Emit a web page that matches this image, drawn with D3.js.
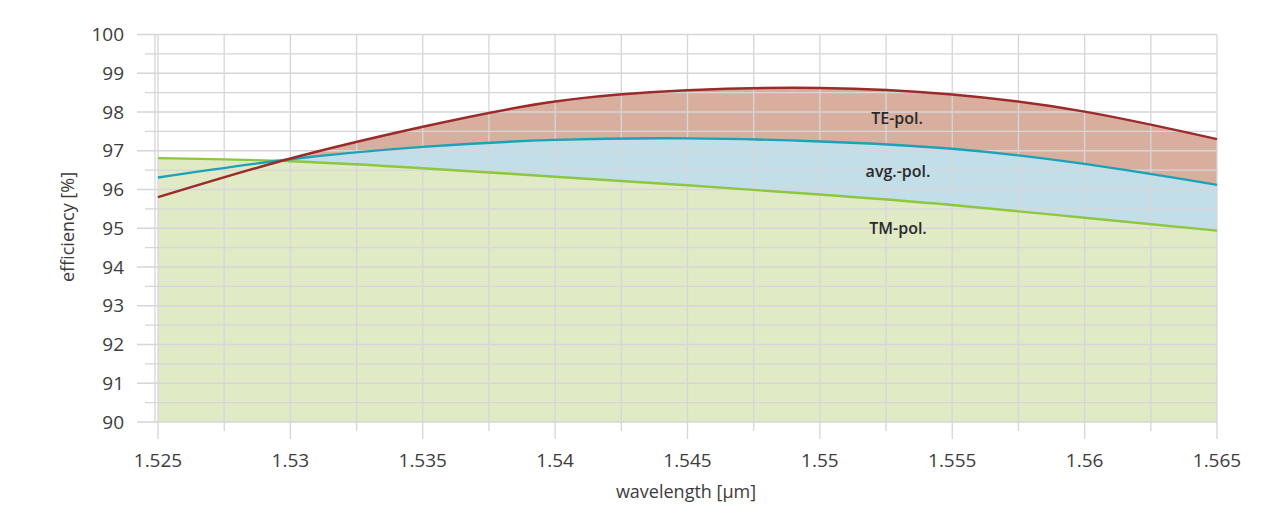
<!DOCTYPE html>
<html>
<head>
<meta charset="utf-8">
<script src="https://cdn.jsdelivr.net/npm/d3@7"></script>
<style>
  html, body { margin: 0; padding: 0; background: #ffffff; }
  svg { display: block; }
  text { font-family: "Open Sans", "Noto Sans", sans-serif; }
</style>
</head>
<body>
<svg id="chart" width="1267" height="520"></svg>
<script>
// ---- data ----
const wavelengths = [1.525, 1.530, 1.535, 1.540, 1.545, 1.550, 1.555, 1.560, 1.565];
const tePol  = [95.80, 96.80, 97.62, 98.27, 98.56, 98.62, 98.45, 98.01, 97.30];
const avgPol = [96.31, 96.78, 97.10, 97.28, 97.32, 97.24, 97.05, 96.66, 96.12];
const tmPol  = [96.81, 96.73, 96.55, 96.33, 96.11, 95.87, 95.60, 95.27, 94.94];
const xTickLabels = ["1.525", "1.53", "1.535", "1.54", "1.545", "1.55", "1.555", "1.56", "1.565"];
const yTickLabels = ["90", "91", "92", "93", "94", "95", "96", "97", "98", "99", "100"];
const seriesLabels = ["TE-pol.", "avg.-pol.", "TM-pol."];

// ---- layout ----
const svg = d3.select("#chart");
const x = d3.scaleLinear().domain([1.525, 1.565]).range([158, 1217]);
const y = d3.scaleLinear().domain([90, 100]).range([422, 34.5]);

const gridColor = "#d6d6da";
const textColor = "#3c3c3c";

const rows = wavelengths.map((w, i) => ({ w, te: tePol[i], avg: avgPol[i], tm: tmPol[i] }));
const curve = d3.curveNatural;

// ---- fills (drawn back to front) ----
const area = key => d3.area().x(d => x(d.w)).y0(y(90)).y1(d => y(d[key])).curve(curve);
svg.append("path").datum(rows).attr("d", area("te")).attr("fill", "#d8ae9f");
svg.append("path").datum(rows).attr("d", area("avg")).attr("fill", "#c2dfe9");
svg.append("path").datum(rows).attr("d", area("tm")).attr("fill", "#e0eac5");

// ---- grid ----
const grid = svg.append("g").attr("stroke", gridColor).attr("stroke-width", 1.3).attr("fill", "none");
const yMajors = yTickLabels.map(Number);
const yMinors = d3.range(90.5, 100, 1);
grid.selectAll(".hmaj").data(yMajors).join("line")
  .attr("x1", 137).attr("x2", x(1.565)).attr("y1", d => y(d)).attr("y2", d => y(d));
grid.selectAll(".hmin").data(yMinors).join("line")
  .attr("x1", 145).attr("x2", x(1.565)).attr("y1", d => y(d)).attr("y2", d => y(d));
const xMajors = xTickLabels.map(Number);
const xMinors = d3.range(1.5275, 1.565, 0.005);
grid.selectAll(".vmaj").data(xMajors).join("line")
  .attr("x1", d => x(d)).attr("x2", d => x(d)).attr("y1", y(100)).attr("y2", 439);
grid.selectAll(".vmin").data(xMinors).join("line")
  .attr("x1", d => x(d)).attr("x2", d => x(d)).attr("y1", y(100)).attr("y2", 431);
grid.append("line").attr("x1", 155).attr("x2", 155).attr("y1", y(100)).attr("y2", y(90));

// ---- lines ----
const line = key => d3.line().x(d => x(d.w)).y(d => y(d[key])).curve(curve);
svg.append("path").datum(rows).attr("d", line("tm")).attr("fill", "none").attr("stroke", "#8dc63f").attr("stroke-width", 2.4);
svg.append("path").datum(rows).attr("d", line("avg")).attr("fill", "none").attr("stroke", "#1ba2b6").attr("stroke-width", 2.4);
svg.append("path").datum(rows).attr("d", line("te")).attr("fill", "none").attr("stroke", "#9b2a2b").attr("stroke-width", 2.4);

// ---- tick labels ----
svg.append("g").selectAll("text").data(yTickLabels).join("text")
  .attr("x", 124).attr("y", d => y(+d)).attr("dy", "0.35em")
  .attr("text-anchor", "end").attr("font-size", 19).attr("fill", textColor)
  .text(d => d);
svg.append("g").selectAll("text").data(xTickLabels).join("text")
  .attr("x", d => x(+d)).attr("y", 467)
  .attr("text-anchor", "middle").attr("font-size", 19).attr("fill", textColor)
  .text(d => d);

// ---- axis titles ----
svg.append("text").attr("x", 686).attr("y", 498).attr("text-anchor", "middle")
  .attr("font-size", 18).attr("fill", textColor).text("wavelength [µm]");
svg.append("text").attr("transform", "translate(74,227) rotate(-90)")
  .attr("text-anchor", "middle").attr("font-size", 18).attr("fill", textColor).text("efficiency [%]");

// ---- series labels ----
const labelPos = [[897, 124], [898, 177], [898, 234]];
svg.append("g").selectAll("text").data(seriesLabels).join("text")
  .attr("x", (d, i) => labelPos[i][0]).attr("y", (d, i) => labelPos[i][1])
  .attr("text-anchor", "middle").attr("font-size", 16).attr("font-weight", 600)
  .attr("fill", "#2a2a2a").text(d => d);
</script>
</body>
</html>
